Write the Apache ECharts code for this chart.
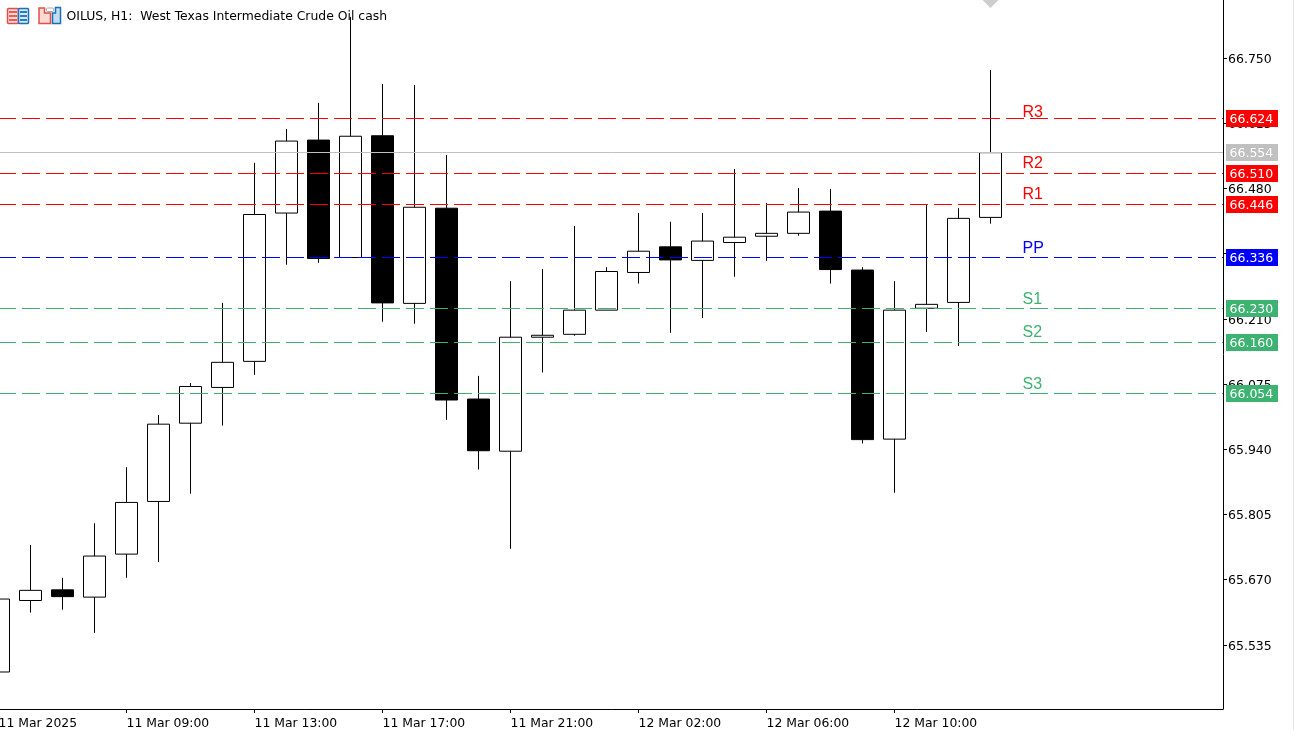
<!DOCTYPE html>
<html>
<head>
<meta charset="utf-8">
<style>
html,body{margin:0;padding:0;background:#fff;overflow:hidden}
#chart{width:1294px;height:730px}
#edge{position:absolute;left:1293px;top:0;width:1px;height:730px;background:#e4e4e4}
</style>
<script src="https://cdn.jsdelivr.net/npm/echarts@6/dist/echarts.min.js"></script>
</head>
<body>
<div id="chart"></div>
<div id="edge"></div>
<script>
const titleText = 'OILUS, H1:  West Texas Intermediate Crude Oil cash';

// hourly bars: open, close, low, high
const opens  = [65.479,65.627,65.649,65.634,65.723,65.832,65.994,66.068,66.122,66.429,66.580,66.337,66.589,66.242,66.439,66.044,65.936,66.172,66.178,66.228,66.306,66.359,66.331,66.368,66.381,66.387,66.433,66.311,65.961,66.232,66.244,66.420];
const closes = [65.630,65.648,65.635,65.719,65.830,65.992,66.070,66.120,66.426,66.578,66.335,66.588,66.243,66.441,66.042,65.937,66.172,66.176,66.228,66.308,66.350,66.332,66.371,66.379,66.387,66.431,66.312,65.960,66.228,66.240,66.418,66.554];
const lows   = [65.479,65.602,65.608,65.560,65.674,65.707,65.848,65.989,66.094,66.322,66.326,66.337,66.204,66.200,66.001,65.898,65.734,66.099,66.175,66.228,66.283,66.181,66.212,66.297,66.330,66.382,66.283,65.952,65.850,66.183,66.154,66.407];
const highs  = [65.630,65.742,65.674,65.787,65.903,66.011,66.077,66.243,66.533,66.603,66.657,66.835,66.696,66.694,66.549,66.092,66.288,66.313,66.402,66.317,66.429,66.411,66.429,66.520,66.450,66.481,66.479,66.317,66.288,66.447,66.439,66.725];

const priceTicks = [66.750,66.615,66.480,66.345,66.210,66.075,65.940,65.805,65.670,65.535];
const timeTickBars = [4,8,12,16,20,24,28];
const timeLabels = ['11 Mar 09:00','11 Mar 13:00','11 Mar 17:00','11 Mar 21:00','12 Mar 02:00','12 Mar 06:00','12 Mar 10:00'];
const firstTimeLabel = '11 Mar 2025';

const levelNames  = ['R3','R2','R1','PP','S1','S2','S3'];
const levelValues = [66.624,66.510,66.446,66.336,66.230,66.160,66.054];
const lastPrice = 66.554;

// ---- layout / style ----
const RED='#FF0000', BLUE='#0000FF', GREEN='#3CB371', GREY='#C0C0C0';
const levelColors = [RED,RED,RED,BLUE,GREEN,GREEN,GREEN];
const nameLift = [5.5,9.5,9.5,8.5,9.3,10.3,8.5];
const FONT = '"DejaVu Sans", sans-serif';
const FS = 12.4;
const PLOT_LEFT = -1.5, PLOT_RIGHT = 1223, PLOT_BOTTOM = 709, BAR_STEP = 32;
const xMin = 0, xMax = (PLOT_RIGHT - PLOT_LEFT) / BAR_STEP;
const yMax = 66.87, yMin = 65.4024;

const candles = opens.map((o,i)=>[i,o,closes[i],lows[i],highs[i]]);
const lineData = levelValues.map((v,i)=>[v,i,levelNames[i]]).concat([[lastPrice,-1,'']]);

function renderLevel(params, api){
  const v = api.value(0), idx = api.value(1);
  const p0 = api.coord([xMin, v]), p1 = api.coord([xMax, v]);
  const row = Math.round(p0[1] - 0.9);
  const y = row + 0.5;
  const color = idx < 0 ? GREY : levelColors[idx];
  const kids = [{
    type:'line',
    shape:{x1:0,y1:y,x2:p1[0],y2:y},
    style:{stroke:color,lineWidth:1,lineDash:idx<0?null:[18,6],lineDashOffset:2}
  },{
    type:'rect', z2:10,
    shape:{x:p1[0]+3,y:row-8,width:52,height:17},
    style:{fill:color}
  },{
    type:'text', z2:11,
    style:{x:p1[0]+6.5,y:row+2,text:v.toFixed(3),fill:'#fff',font:'12.5px '+FONT,verticalAlign:'middle',align:'left'}
  }];
  if(idx>=0){
    const nameX = api.coord([32, v])[0];
    kids.push({
      type:'text', z2:11,
      style:{x:nameX,y:y-nameLift[idx],text:levelNames[idx],fill:color,font:'16px "Liberation Sans", Arial, sans-serif',verticalAlign:'middle',align:'left'}
    });
  }
  return {type:'group',children:kids};
}

const chart = echarts.init(document.getElementById('chart'),null,{renderer:'canvas'});
chart.setOption({
  animation:false,
  backgroundColor:'#fff',
  title:{
    text:titleText,left:66.5,top:10.5,padding:0,
    textStyle:{fontFamily:FONT,fontSize:FS,fontWeight:'normal',color:'#000'}
  },
  grid:{left:PLOT_LEFT,top:0,right:1294-PLOT_RIGHT,bottom:730-PLOT_BOTTOM,outerBoundsMode:'none',containLabel:false},
  xAxis:{
    type:'value',scale:true,min:xMin,max:xMax,
    splitLine:{show:false},
    axisLine:{show:true,onZero:false,lineStyle:{color:'#000',width:1}},
    axisTick:{show:true,length:4,inside:false,lineStyle:{color:'#000'},customValues:timeTickBars},
    axisLabel:{
      show:true,color:'#000',fontFamily:FONT,fontSize:FS,align:'left',margin:9,
      customValues:[xMin].concat(timeTickBars),
      hideOverlap:false,showMinLabel:true,
      formatter:(v)=>{const k=timeTickBars.indexOf(v);return k>=0?timeLabels[k]:firstTimeLabel;}
    }
  },
  yAxis:{
    type:'value',position:'right',min:yMin,max:yMax,scale:true,
    splitLine:{show:false},
    axisLine:{show:true,onZero:false,lineStyle:{color:'#000',width:1}},
    axisTick:{show:true,length:4,lineStyle:{color:'#000'},customValues:priceTicks},
    axisLabel:{
      show:true,color:'#000',fontFamily:FONT,fontSize:12.5,margin:5,align:'left',
      customValues:priceTicks,hideOverlap:false,
      formatter:(v)=>'{p|'+v.toFixed(3)+'}',
      rich:{p:{color:'#000',fontFamily:FONT,fontSize:12.5,padding:[3,0,0,0]}}
    }
  },
  series:[
    {
      type:'candlestick',barWidth:22,data:candles,z:2,clip:true,
      encode:{x:0,y:[1,2,3,4]},
      itemStyle:{color:'#fff',color0:'#000',borderColor:'#000',borderColor0:'#000',borderWidth:1}
    },
    {
      type:'custom',data:lineData,z:5,renderItem:renderLevel,
      encode:{y:0},silent:true,clip:false
    },
    {
      type:'scatter',data:[[31,yMax]],symbol:'diamond',symbolSize:[16,16],z:6,clip:false,
      itemStyle:{color:GREY},silent:true
    }
  ],
  graphic:[
    {type:'rect',shape:{x:7.5,y:8.5,width:11,height:15,r:1},style:{fill:'#FFDAD2',stroke:'#E0504A',lineWidth:1.5}},
    {type:'rect',shape:{x:18.5,y:8.5,width:10,height:15,r:1},style:{fill:'#D6E8F8',stroke:'#1A6FB5',lineWidth:1.5}},
    {type:'rect',shape:{x:9,y:11,width:8,height:2},style:{fill:'#EE5A55'}},
    {type:'rect',shape:{x:9,y:15,width:8,height:2},style:{fill:'#EE5A55'}},
    {type:'rect',shape:{x:9,y:19,width:8,height:2},style:{fill:'#EE5A55'}},
    {type:'rect',shape:{x:20,y:11,width:7,height:2},style:{fill:'#2A7FC4'}},
    {type:'rect',shape:{x:20,y:15,width:7,height:2},style:{fill:'#2A7FC4'}},
    {type:'rect',shape:{x:20,y:19,width:7,height:2},style:{fill:'#2A7FC4'}},
    {type:'polygon',shape:{points:[[39,8],[44.5,8],[44.5,13],[50.5,13],[50.5,23.5],[39,23.5]]},style:{fill:'#FFDAD2',stroke:'#E0504A',lineWidth:1.5}},
    {type:'polygon',shape:{points:[[52.5,23.5],[52.5,13],[55.5,13],[55.5,7.5],[60.5,7.5],[60.5,23.5]]},style:{fill:'#BFDDF5',stroke:'#1A6FB5',lineWidth:1.5}},
    {type:'rect',shape:{x:46.5,y:8,width:7,height:3.5,r:1},style:{fill:'#fff',stroke:'#A8A8A8',lineWidth:1}}
  ]
});
</script>
</body>
</html>
